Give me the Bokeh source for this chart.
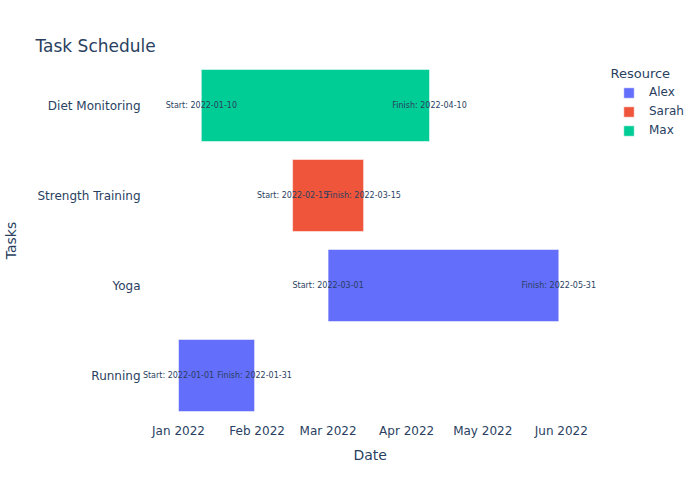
from datetime import datetime, timedelta
from bokeh.plotting import figure
from bokeh.models import (ColumnDataSource, Range1d, DatetimeTickFormatter, MonthsTicker,
                          Legend, LegendItem, Label, Title, LinearAxis, FixedTicker)
from bokeh.core.properties import value
from bokeh.embed import file_html
from bokeh.resources import INLINE

# ---- data ----
tasks = ["Running", "Yoga", "Strength Training", "Diet Monitoring"]
starts = ["2022-01-01", "2022-03-01", "2022-02-15", "2022-01-10"]
finishes = ["2022-01-31", "2022-05-31", "2022-03-15", "2022-04-10"]
resources = ["Alex", "Alex", "Sarah", "Max"]
resource_order = ["Alex", "Sarah", "Max"]
resource_colors = {"Alex": "#636efa", "Sarah": "#EF553B", "Max": "#00cc96"}

FONT = "DejaVu Sans"
TXT = "#2a3f5f"

start_dt = [datetime.strptime(s, "%Y-%m-%d") for s in starts]
finish_dt = [datetime.strptime(s, "%Y-%m-%d") for s in finishes]

# x range (frame spans to right edge so that legend is not clipped)
x_start = datetime(2022, 1, 1) - timedelta(days=14.6)
x_end = datetime(2022, 1, 1) + timedelta(days=205.9)

p = figure(width=700, height=500, output_backend="svg", toolbar_location=None,
           y_range=tasks, x_axis_type="datetime",
           x_range=Range1d(x_start, x_end),
           min_border_left=141, min_border_right=0, min_border_top=60, min_border_bottom=80)
p.title = None
p.outline_line_color = None
p.xgrid.visible = False
p.ygrid.visible = False

renderers = {}
for r in resource_order:
    idx = [i for i, rr in enumerate(resources) if rr == r]
    src = ColumnDataSource(dict(
        task=[tasks[i] for i in idx],
        left=[start_dt[i] for i in idx],
        right=[finish_dt[i] for i in idx],
    ))
    renderers[r] = p.hbar(y="task", left="left", right="right", height=0.8, source=src,
                          fill_color=resource_colors[r], line_color="white", line_width=0.5)

lab_src = ColumnDataSource(dict(
    task=tasks + tasks,
    x=start_dt + finish_dt,
    txt=["Start: " + s for s in starts] + ["Finish: " + f for f in finishes],
))
p.text(x="x", y="task", text="txt", source=lab_src, text_align="center", text_baseline="middle",
       text_font=value(FONT), text_font_size="8px", text_color=TXT)

# axes
p.xaxis.ticker = MonthsTicker(months=[0, 1, 2, 3, 4, 5])
p.xaxis.formatter = DatetimeTickFormatter(months="%b %Y", days="%b %Y")
for ax in (p.xaxis[0], p.yaxis[0]):
    ax.axis_line_color = None
    ax.major_tick_line_color = None
    ax.minor_tick_line_color = None
    ax.major_tick_in = 0
    ax.major_tick_out = 0
    ax.minor_tick_out = 0
    ax.major_label_text_font = FONT
    ax.major_label_text_font_size = "12px"
    ax.major_label_text_color = TXT
    ax.axis_label_text_font = FONT
    ax.axis_label_text_font_size = "14px"
    ax.axis_label_text_color = TXT
    ax.axis_label_text_font_style = "normal"
p.yaxis.axis_label = "Tasks"
p.xaxis.major_label_standoff = 3
p.yaxis.major_label_standoff = 1
p.yaxis.axis_label_standoff = 15

# empty spacer axis above the frame (no ticks, no labels) to lift the title
spacer = LinearAxis(ticker=FixedTicker(ticks=[]), axis_line_color=None,
                    major_tick_line_color="white", minor_tick_line_color=None,
                    major_tick_in=0, major_tick_out=22, minor_tick_out=0,
                    major_label_standoff=0)
p.add_layout(spacer, "above")

# chart title (outside the spacer)
p.add_layout(Title(text="Task Schedule", align="left", offset=-106, standoff=10,
                   text_font=FONT, text_font_size="17px", text_color=TXT,
                   text_font_style="normal"), "above")

# x axis title (as a below Title so it can be centred on the plotly-like domain)
p.add_layout(Title(text="Date", align="left", offset=212, vertical_align="top", standoff=12,
                   text_font=FONT, text_font_size="14px", text_color=TXT,
                   text_font_style="normal"), "below")

# legend
legend = Legend(items=[LegendItem(label=r, renderers=[renderers[r]]) for r in resource_order],
                location=(481, 283), orientation="vertical",
                background_fill_alpha=0, border_line_color=None,
                label_text_font=FONT, label_text_font_size="12px", label_text_color=TXT,
                glyph_width=13, glyph_height=13, label_height=13, label_standoff=14,
                spacing=5, padding=0, margin=0)
p.add_layout(legend)
p.add_layout(Label(x=469, y=347, x_units="screen", y_units="screen", text="Resource",
                   text_font=FONT, text_font_size="13px", text_color=TXT,
                   text_baseline="middle"))

open("out.html", "w").write(file_html(p, INLINE))
